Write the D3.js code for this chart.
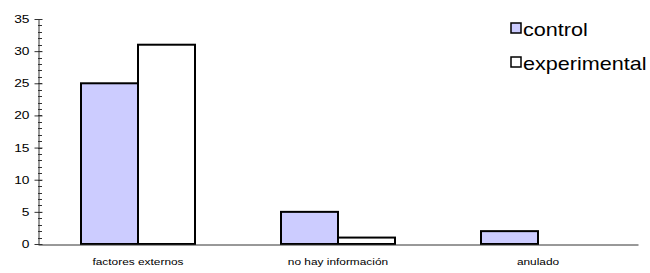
<!DOCTYPE html>
<html>
<head>
<meta charset="utf-8">
<script src="https://cdn.jsdelivr.net/npm/d3@7"></script>
<style>
  body { margin: 0; background: #fff; }
  svg { display: block; font-family: "Liberation Sans", Arial, sans-serif; }
</style>
</head>
<body>
<div id="chart"></div>
<script>
  const categories = ['factores externos', 'no hay información', 'anulado'];
  const series = ['control', 'experimental'];
  const control = [25, 5, 2];
  const experimental = [31, 1, 0];
  const colors = ['#ccccff', '#ffffff'];
  const yTicks = [0, 5, 10, 15, 20, 25, 30, 35];

  (function() {
    const width = 650, height = 273;
    const plot = { left: 38, right: 638, top: 19, bottom: 244 };
    // the original text is a bit stretched sideways
    const stretch = 'scale(1.25,1)';

    let svg = d3.select('#chart')
      .append('svg')
      .attr('width', width)
      .attr('height', height);

    let x0 = d3.scaleBand()
      .domain(categories)
      .range([plot.left, plot.right])
      .paddingInner(0.43)
      .paddingOuter(0.215);

    let x1 = d3.scaleBand()
      .domain(series)
      .range([0, x0.bandwidth()]);

    let y = d3.scaleLinear()
      .domain([0, 35])
      .range([plot.bottom, plot.top]);

    // minor ticks, one per unit, inside the plot
    svg.append('g')
      .selectAll('line')
      .data(d3.range(0, 36))
      .join('line')
      .attr('x1', plot.left)
      .attr('x2', plot.left + 4)
      .attr('y1', d => Math.round(y(d)) + 0.5)
      .attr('y2', d => Math.round(y(d)) + 0.5)
      .attr('stroke', '#333');

    // y axis
    let yAxis = svg.append('g')
      .attr('transform', `translate(${plot.left + 0.5},0)`)
      .call(d3.axisLeft(y).tickValues(yTicks).tickSizeInner(4).tickSizeOuter(0));
    yAxis.select('.domain').attr('stroke', '#333');
    yAxis.selectAll('.tick line').attr('stroke', '#333').attr('x1', -4).attr('x2', 4);
    yAxis.selectAll('.tick text')
      .attr('x', 0)
      .attr('transform', 'translate(-9,0) ' + stretch)
      .attr('font-size', 11)
      .attr('font-family', '"Liberation Sans", Arial, sans-serif')
      .attr('fill', '#000');

    const rows = categories.map((c, i) => ({ cat: c, values: [control[i], experimental[i]] }));

    // bars
    svg.append('g')
      .selectAll('g')
      .data(rows)
      .join('g')
      .attr('transform', d => `translate(${x0(d.cat)},0)`)
      .selectAll('rect')
      .data(d => d.values.map((v, j) => ({ key: series[j], v, j })))
      .join('rect')
      .attr('x', d => x1(d.key))
      .attr('y', d => y(d.v))
      .attr('width', x1.bandwidth())
      .attr('height', d => y(0) - y(d.v))
      .attr('fill', d => colors[d.j])
      .attr('stroke', '#000')
      .attr('stroke-width', 2)
      .style('display', d => d.v > 0 ? null : 'none');

    // x axis
    let xAxis = svg.append('g')
      .attr('transform', `translate(0,${plot.bottom + 0.5})`)
      .call(d3.axisBottom(x0).tickSize(0).tickPadding(14));
    xAxis.select('.domain').attr('stroke', '#333');
    xAxis.selectAll('.tick text')
      .attr('transform', stretch)
      .attr('font-size', 9.5)
      .attr('font-family', '"Liberation Sans", Arial, sans-serif')
      .attr('fill', '#000');

    // legend
    let legend = svg.append('g')
      .selectAll('g')
      .data(series)
      .join('g')
      .attr('transform', (d, i) => `translate(511,${23 + i * 34})`);
    legend.append('rect')
      .attr('width', 10)
      .attr('height', 10)
      .attr('fill', (d, i) => colors[i])
      .attr('stroke', '#000')
      .attr('stroke-width', 1.5);
    legend.append('text')
      .attr('transform', 'translate(12,13) scale(1.2,1)')
      .attr('font-size', 18)
      .text(d => d);
  })();
</script>
</body>
</html>
